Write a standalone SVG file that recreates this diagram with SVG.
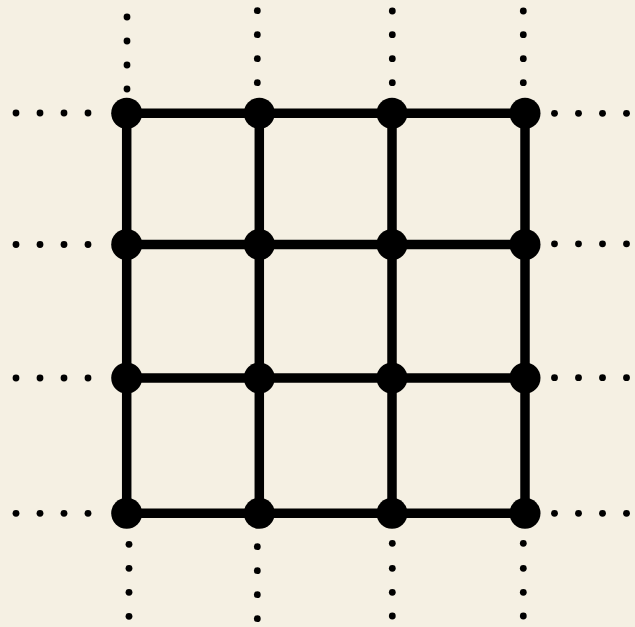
<svg xmlns="http://www.w3.org/2000/svg" width="635" height="627" viewBox="0 0 635 627">
<style>
.edge{stroke:#000;stroke-width:9.5;fill:none}
.node{fill:#000}
.dot{fill:#000}
</style>
<defs>
<circle id="d" r="3.4" class="dot"/>
</defs>
<rect width="635" height="627" fill="#f5f0e3"/>
<g id="stubs">
<g id="left">
<use href="#d" x="16" y="113"/><use href="#d" x="40" y="113"/><use href="#d" x="64" y="113"/><use href="#d" x="88" y="113"/>
<use href="#d" x="16" y="244.5"/><use href="#d" x="40" y="244.5"/><use href="#d" x="64" y="244.5"/><use href="#d" x="88" y="244.5"/>
<use href="#d" x="16" y="378"/><use href="#d" x="40" y="378"/><use href="#d" x="64" y="378"/><use href="#d" x="88" y="378"/>
<use href="#d" x="16" y="513.3"/><use href="#d" x="40" y="513.3"/><use href="#d" x="64" y="513.3"/><use href="#d" x="88" y="513.3"/>
</g>
<g id="right">
<use href="#d" x="554.5" y="113.3"/><use href="#d" x="578.5" y="113.3"/><use href="#d" x="602.5" y="113.3"/><use href="#d" x="626.5" y="113.3"/>
<use href="#d" x="554.5" y="243.8"/><use href="#d" x="578.5" y="243.8"/><use href="#d" x="602.5" y="243.8"/><use href="#d" x="626.5" y="243.8"/>
<use href="#d" x="554.5" y="377.7"/><use href="#d" x="578.5" y="377.7"/><use href="#d" x="602.5" y="377.7"/><use href="#d" x="626.5" y="377.7"/>
<use href="#d" x="554.5" y="513.3"/><use href="#d" x="578.5" y="513.3"/><use href="#d" x="602.5" y="513.3"/><use href="#d" x="626.5" y="513.3"/>
</g>
<g id="top">
<use href="#d" x="127" y="17"/><use href="#d" x="127" y="41"/><use href="#d" x="127" y="65"/><use href="#d" x="127" y="89"/>
<use href="#d" x="257.3" y="10.7"/><use href="#d" x="257.3" y="34.7"/><use href="#d" x="257.3" y="58.7"/><use href="#d" x="257.3" y="82.7"/>
<use href="#d" x="392.3" y="11"/><use href="#d" x="392.3" y="34.7"/><use href="#d" x="392.3" y="58.7"/><use href="#d" x="392.3" y="82.7"/>
<use href="#d" x="523.3" y="11"/><use href="#d" x="523.3" y="34.7"/><use href="#d" x="523.3" y="58.7"/><use href="#d" x="523.3" y="82.7"/>
</g>
<g id="bottom">
<use href="#d" x="129" y="544.3"/><use href="#d" x="129" y="568.3"/><use href="#d" x="129" y="592.3"/><use href="#d" x="129" y="616.3"/>
<use href="#d" x="257.3" y="546.7"/><use href="#d" x="257.3" y="570.7"/><use href="#d" x="257.3" y="594.7"/><use href="#d" x="257.3" y="618.7"/>
<use href="#d" x="392.3" y="543.3"/><use href="#d" x="392.3" y="568.3"/><use href="#d" x="392.3" y="592.3"/><use href="#d" x="392.3" y="616"/>
<use href="#d" x="523.3" y="543.3"/><use href="#d" x="523.3" y="568.3"/><use href="#d" x="523.3" y="592.3"/><use href="#d" x="523.3" y="616"/>
</g>
</g>
<g id="connectors">
<line class="edge" x1="126.7" y1="113.3" x2="525" y2="113.3"/>
<line class="edge" x1="126.7" y1="244.5" x2="525" y2="244.5"/>
<line class="edge" x1="126.7" y1="378" x2="525" y2="378"/>
<line class="edge" x1="126.7" y1="513.3" x2="525" y2="513.3"/>
<line class="edge" x1="126.7" y1="113.3" x2="126.7" y2="513.3"/>
<line class="edge" x1="259.3" y1="113.3" x2="259.3" y2="513.3"/>
<line class="edge" x1="392" y1="113.3" x2="392" y2="513.3"/>
<line class="edge" x1="525" y1="113.3" x2="525" y2="513.3"/>
</g>
<g id="n11"><circle class="node" cx="126.7" cy="113.3" r="15.5"/></g>
<g id="n12"><circle class="node" cx="259.3" cy="113.3" r="15.5"/></g>
<g id="n13"><circle class="node" cx="392" cy="113.3" r="15.5"/></g>
<g id="n14"><circle class="node" cx="525" cy="113.3" r="15.5"/></g>
<g id="n21"><circle class="node" cx="126.7" cy="244.5" r="15.5"/></g>
<g id="n22"><circle class="node" cx="259.3" cy="244.5" r="15.5"/></g>
<g id="n23"><circle class="node" cx="392" cy="244.5" r="15.5"/></g>
<g id="n24"><circle class="node" cx="525" cy="244.5" r="15.5"/></g>
<g id="n31"><circle class="node" cx="126.7" cy="378" r="15.5"/></g>
<g id="n32"><circle class="node" cx="259.3" cy="378" r="15.5"/></g>
<g id="n33"><circle class="node" cx="392" cy="378" r="15.5"/></g>
<g id="n34"><circle class="node" cx="525" cy="378" r="15.5"/></g>
<g id="n41"><circle class="node" cx="126.7" cy="513.3" r="15.5"/></g>
<g id="n42"><circle class="node" cx="259.3" cy="513.3" r="15.5"/></g>
<g id="n43"><circle class="node" cx="392" cy="513.3" r="15.5"/></g>
<g id="n44"><circle class="node" cx="525" cy="513.3" r="15.5"/></g>
</svg>
